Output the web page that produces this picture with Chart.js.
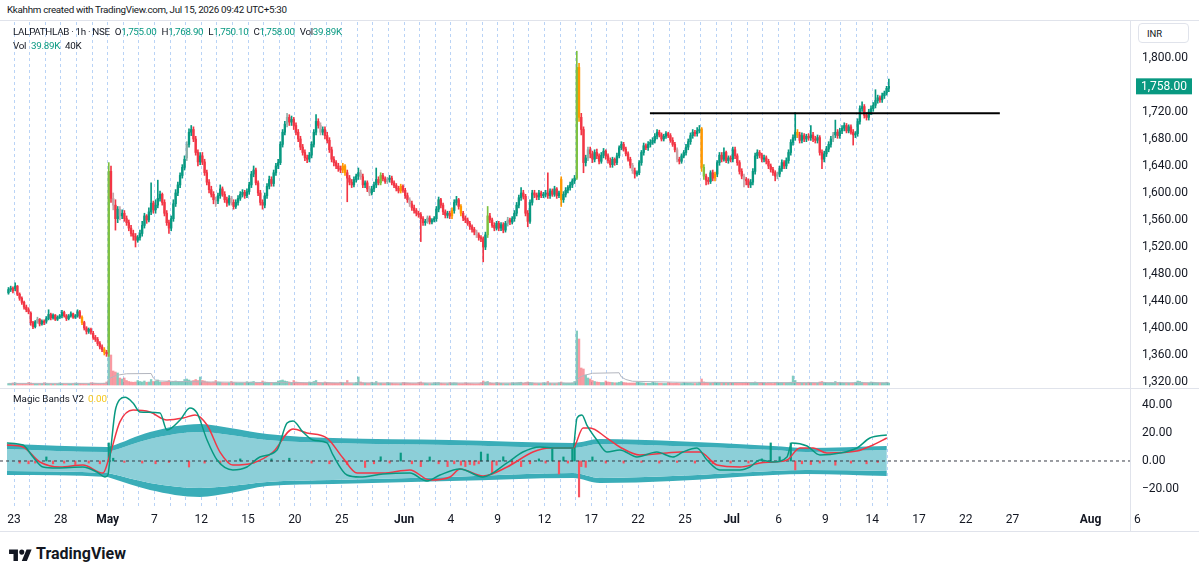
<!DOCTYPE html>
<html>
<head>
<meta charset="utf-8">
<title>LALPATHLAB 1h</title>
<script src="https://cdn.jsdelivr.net/npm/chart.js@4.4.1/dist/chart.umd.min.js"></script>
<style>
  html, body { margin: 0; padding: 0; background: #fff; }
  body { position: relative; width: 1199px; height: 576px; overflow: hidden;
         font-family: Roboto, "Liberation Sans", sans-serif; color: #131722; }
  canvas { position: absolute; left: 0; }
  .abs { position: absolute; white-space: nowrap; z-index: 2; }
  .sep { position: absolute; background: #e0e3eb; z-index: 1; }
  .g { color: #089981; }
  #hdr { left: 7px; top: 4px; font-size: 9.8px; letter-spacing: -0.3px; }
  #lg1, #lg2 { left: 13px; font-size: 9.8px; letter-spacing: -0.3px; }
  #lg1 { top: 26px; }
  #lg2 { top: 40px; }
  #lg1 .k { margin-left: 5px; }
  #lg2 .k { margin-left: 5px; }
  #inr { left: 1138px; top: 23px; width: 51px; height: 20px; border: 1px solid #e0e3eb; border-radius: 4px;
         font-size: 9.5px; line-height: 19px; padding-left: 8px; box-sizing: border-box; background: #fff; }
  #mb { left: 13px; top: 393px; font-size: 9.8px; }
  #mb span { color: #f5c71a; margin-left: 4px; }
  #logo { left: 9px; top: 544px; font-size: 16px; font-weight: 700; display: flex; align-items: center; gap: 4px; }
</style>
</head>
<body>
<div id="hdr" class="abs">Kkahhm created with TradingView.com, Jul 15, 2026 09:42 UTC+5:30</div>
<div class="sep" style="left:0;top:20px;width:1199px;height:1px"></div>
<canvas id="main" width="1199" height="366" style="top:22px"></canvas>
<div class="sep" style="left:0;top:388px;width:1199px;height:1px"></div>
<canvas id="osc" width="1199" height="142" style="top:389px"></canvas>
<div class="sep" style="left:0;top:531px;width:1199px;height:1px"></div>
<div class="sep" style="left:1130px;top:21px;width:1px;height:510px"></div>
<div id="lg1" class="abs">LALPATHLAB · 1h · NSE<span class="k">O</span><span class="g">1,755.00</span><span class="k">H</span><span class="g">1,768.90</span><span class="k">L</span><span class="g">1,750.10</span><span class="k">C</span><span class="g">1,758.00</span><span class="k">Vol</span><span class="g">39.89K</span></div>
<div id="lg2" class="abs">Vol<span class="k g">39.89K</span><span class="k">40K</span></div>
<div id="inr" class="abs">INR</div>
<div id="mb" class="abs">Magic Bands V2<span>0.00</span></div>
<div id="logo" class="abs"><svg width="23" height="14" viewBox="0 0 36 22"><path d="M14 22H7V11H0V4h14v18zM28 22h-8l7.5-18h8L28 22zM20 4a4 4 0 1 0 0 8 4 4 0 0 0 0-8z" fill="#131722"/></svg>TradingView</div>

<script>
// hourly bars, 7 per NSE session; the first 3 bars are the tail of 22 Apr
const opens = [
  1452,1457,1459,
  1458,1462,1450,1444,1438,1431,1427, // 23 Apr
  1422,1408,1402,1409,1413,1406,1410,
  1410,1414,1420,1415,1419,1413,1416,
  1418,1423,1418,1414,1418,1421,1416, // 28 Apr
  1418,1424,1416,1408,1400,1395,1398,
  1392,1386,1383,1377,1372,1368,1364,
  1364,1632,1592,1582,1562,1576,1566, // 4 May
  1570,1562,1556,1548,1540,1536,1530,
  1534,1540,1552,1566,1560,1572,1585,
  1575,1582,1592,1598,1586,1570,1556, // 7 May
  1548,1562,1584,1600,1612,1626,1638,
  1652,1672,1690,1694,1680,1660,1646,
  1655,1646,1630,1616,1605,1598,1590, // 12 May
  1588,1596,1606,1598,1590,1585,1592,
  1586,1580,1586,1592,1598,1601,1596,
  1602,1612,1628,1634,1615,1600,1586, // 15 May
  1582,1596,1610,1620,1614,1630,1640,
  1645,1672,1690,1702,1712,1705,1709,
  1700,1690,1680,1668,1660,1652,1650, // 20 May
  1656,1672,1690,1706,1700,1690,1694,
  1685,1678,1664,1650,1645,1640,1636,
  1634,1640,1630,1622,1616,1612,1620, // 25 May
  1625,1630,1624,1612,1615,1606,1600,
  1606,1612,1620,1615,1626,1621,1617,
  1620,1622,1615,1611,1607,1603,1610,
  1604,1596,1590,1584,1578,1574,1570, // 1 Jun
  1568,1562,1556,1558,1563,1557,1560,
  1562,1576,1590,1582,1572,1567,1570,
  1566,1574,1586,1590,1580,1570,1563, // 4 Jun
  1560,1555,1550,1546,1542,1538,1534,
  1532,1520,1538,1566,1560,1552,1548,
  1555,1548,1553,1545,1555,1560,1557, // 9 Jun
  1562,1570,1582,1593,1600,1595,1570,
  1558,1586,1600,1597,1594,1600,1596,
  1598,1600,1596,1603,1598,1606,1596, // 12 Jun
  1620,1590,1598,1604,1608,1612,1618,
  1622,1786,1712,1694,1645,1652,1664,
  1658,1650,1660,1655,1647,1656,1662, // 17 Jun
  1655,1648,1642,1650,1645,1655,1667,
  1672,1665,1658,1650,1641,1633,1628,
  1630,1645,1660,1670,1667,1672,1675, // 22 Jun
  1678,1684,1690,1686,1680,1684,1688,
  1685,1678,1672,1664,1650,1647,1655,
  1660,1668,1676,1685,1690,1688,1692, // 25 Jun
  1695,1638,1625,1619,1617,1630,1622,
  1628,1645,1656,1650,1660,1648,1652,
  1650,1664,1655,1645,1632,1625,1620, // 1 Jul
  1618,1612,1616,1632,1655,1660,1656,
  1650,1652,1647,1640,1635,1630,1625,
  1628,1636,1645,1640,1648,1660,1675, // 6 Jul
  1682,1690,1686,1678,1685,1680,1684,
  1682,1686,1680,1678,1682,1660,1650,
  1658,1665,1672,1680,1686,1690,1685, // 9 Jul
  1692,1696,1700,1692,1698,1690,1686,
  1688,1706,1725,1728,1715,1712,1720,
  1725,1730,1737,1741,1738,1744,1748, // 14 Jul
  1755
];
const highs = [
  1460,1462,1461,
  1467,1463,1452,1446,1440,1434,1430,
  1424,1410,1411,1416,1414,1412,1412,
  1417,1427,1422,1421,1420,1418,1420,
  1426,1425,1420,1420,1424,1422,1420,
  1427,1426,1418,1410,1402,1400,1400,
  1395,1389,1386,1380,1375,1371,1367,
  1645,1640,1600,1590,1580,1580,1575,
  1574,1566,1560,1552,1545,1540,1537,
  1545,1558,1570,1568,1578,1615,1588,
  1590,1619,1603,1600,1590,1574,1560,
  1566,1590,1605,1616,1630,1642,1655,
  1676,1695,1700,1698,1684,1664,1660,
  1660,1650,1634,1620,1610,1602,1594,
  1600,1612,1609,1602,1594,1596,1595,
  1590,1590,1596,1602,1605,1604,1606,
  1616,1632,1640,1637,1618,1604,1590,
  1600,1614,1625,1624,1634,1644,1650,
  1676,1694,1706,1718,1716,1714,1712,
  1704,1694,1684,1672,1664,1656,1660,
  1676,1694,1716,1710,1704,1698,1698,
  1690,1682,1668,1654,1648,1644,1640,
  1644,1642,1634,1626,1620,1624,1628,
  1637,1634,1628,1618,1618,1610,1610,
  1616,1637,1624,1630,1629,1624,1623,
  1626,1625,1618,1614,1610,1613,1612,
  1607,1600,1593,1588,1582,1577,1573,
  1571,1565,1561,1566,1566,1562,1565,
  1580,1594,1592,1585,1575,1573,1573,
  1578,1590,1595,1592,1583,1573,1566,
  1563,1558,1553,1549,1545,1541,1537,
  1535,1542,1580,1570,1563,1556,1558,
  1558,1556,1556,1558,1564,1563,1565,
  1574,1586,1597,1608,1604,1598,1574,
  1590,1604,1604,1600,1604,1603,1601,
  1604,1630,1606,1606,1610,1608,1603,
  1624,1602,1608,1611,1616,1621,1626,
  1810,1792,1718,1698,1656,1668,1668,
  1662,1664,1665,1658,1660,1666,1664,
  1658,1652,1653,1652,1659,1670,1676,
  1675,1668,1661,1653,1644,1637,1633,
  1648,1663,1674,1673,1676,1679,1682,
  1688,1694,1693,1689,1687,1691,1690,
  1688,1682,1675,1667,1653,1658,1663,
  1672,1680,1689,1694,1693,1697,1700,
  1697,1642,1628,1623,1633,1634,1631,
  1648,1660,1660,1667,1662,1655,1655,
  1668,1668,1658,1648,1636,1628,1623,
  1621,1620,1636,1659,1664,1663,1659,
  1656,1655,1650,1643,1638,1633,1631,
  1640,1649,1648,1652,1664,1679,1686,
  1719,1694,1690,1689,1688,1687,1688,
  1700,1690,1684,1686,1685,1664,1662,
  1669,1676,1684,1690,1708,1694,1696,
  1700,1704,1703,1701,1701,1694,1691,
  1710,1729,1735,1731,1719,1724,1729,
  1734,1753,1745,1744,1748,1751,1758,
  1768.9
];
const lows = [
  1450,1454,1452,
  1455,1448,1441,1435,1428,1424,1421,
  1404,1399,1400,1407,1403,1404,1405,
  1407,1412,1412,1413,1411,1411,1414,
  1415,1416,1411,1412,1416,1414,1414,
  1416,1414,1405,1397,1391,1392,1391,
  1383,1380,1374,1369,1365,1360,1358,
  1358,1586,1575,1545,1556,1560,1562,
  1558,1552,1544,1536,1530,1520,1527,
  1530,1536,1548,1555,1557,1568,1570,
  1570,1578,1588,1582,1566,1552,1540,
  1544,1558,1580,1596,1608,1622,1634,
  1648,1668,1685,1676,1656,1640,1642,
  1642,1626,1612,1600,1594,1584,1580,
  1584,1592,1595,1586,1580,1582,1582,
  1576,1577,1582,1589,1594,1592,1593,
  1598,1608,1624,1612,1596,1582,1576,
  1578,1592,1606,1610,1610,1626,1636,
  1642,1668,1686,1698,1700,1700,1694,
  1686,1676,1664,1656,1648,1645,1646,
  1652,1668,1686,1696,1686,1686,1680,
  1674,1660,1646,1640,1636,1632,1630,
  1630,1626,1587,1612,1608,1609,1616,
  1620,1620,1608,1608,1602,1596,1597,
  1602,1608,1612,1612,1618,1614,1614,
  1616,1612,1608,1603,1600,1600,1601,
  1592,1586,1580,1574,1570,1566,1564,
  1528,1552,1552,1555,1554,1554,1557,
  1558,1572,1578,1568,1563,1563,1562,
  1562,1570,1582,1576,1566,1559,1556,
  1552,1546,1542,1538,1534,1530,1528,
  1498,1516,1534,1556,1549,1544,1545,
  1544,1544,1541,1542,1551,1553,1554,
  1558,1566,1578,1589,1591,1566,1550,
  1555,1582,1593,1590,1590,1593,1593,
  1594,1592,1592,1595,1595,1592,1593,
  1580,1586,1594,1600,1604,1608,1614,
  1620,1706,1686,1630,1640,1648,1652,
  1645,1646,1651,1643,1644,1652,1650,
  1644,1638,1638,1641,1642,1652,1664,
  1662,1655,1647,1637,1629,1622,1625,
  1627,1641,1656,1664,1663,1668,1672,
  1674,1680,1683,1677,1677,1681,1682,
  1675,1669,1661,1646,1643,1644,1652,
  1656,1664,1672,1681,1684,1684,1689,
  1632,1620,1612,1613,1614,1618,1618,
  1624,1641,1646,1647,1645,1644,1646,
  1646,1651,1641,1628,1621,1609,1612,
  1608,1608,1612,1628,1651,1652,1646,
  1646,1643,1636,1631,1626,1618,1621,
  1624,1632,1636,1636,1644,1656,1671,
  1678,1682,1674,1674,1676,1676,1678,
  1678,1676,1674,1674,1656,1636,1646,
  1654,1661,1668,1676,1682,1681,1681,
  1688,1692,1689,1689,1687,1671,1682,
  1684,1702,1721,1711,1708,1708,1716,
  1721,1726,1733,1734,1734,1740,1745,
  1750.1
];
const closes = [
  1457,1459,1455,
  1462,1450,1444,1438,1431,1427,1424,
  1408,1402,1409,1413,1406,1410,1408,
  1414,1420,1415,1419,1413,1416,1418,
  1423,1418,1414,1418,1421,1416,1418,
  1424,1416,1408,1400,1395,1398,1394,
  1386,1383,1377,1372,1368,1364,1362,
  1632,1592,1582,1562,1576,1566,1570,
  1562,1556,1548,1540,1536,1530,1534,
  1540,1552,1566,1560,1572,1585,1575,
  1582,1592,1598,1586,1570,1556,1548,
  1562,1584,1600,1612,1626,1638,1650,
  1672,1690,1694,1680,1660,1646,1655,
  1646,1630,1616,1605,1598,1590,1588,
  1596,1606,1598,1590,1585,1592,1586,
  1580,1586,1592,1598,1601,1596,1602,
  1612,1628,1634,1615,1600,1586,1582,
  1596,1610,1620,1614,1630,1640,1645,
  1672,1690,1702,1712,1705,1709,1700,
  1690,1680,1668,1660,1652,1650,1656,
  1672,1690,1706,1700,1690,1694,1685,
  1678,1664,1650,1645,1640,1636,1634,
  1640,1630,1622,1616,1612,1620,1625,
  1630,1624,1612,1615,1606,1600,1606,
  1612,1620,1615,1626,1621,1617,1620,
  1622,1615,1611,1607,1603,1610,1604,
  1596,1590,1584,1578,1574,1570,1568,
  1562,1556,1558,1563,1557,1560,1562,
  1576,1590,1582,1572,1567,1570,1566,
  1574,1586,1590,1580,1570,1563,1560,
  1555,1550,1546,1542,1538,1534,1532,
  1520,1538,1566,1560,1552,1548,1555,
  1548,1553,1545,1555,1560,1557,1562,
  1570,1582,1593,1600,1595,1570,1558,
  1586,1600,1597,1594,1600,1596,1598,
  1600,1596,1603,1598,1606,1596,1600,
  1590,1598,1604,1608,1612,1618,1622,
  1786,1712,1694,1645,1652,1664,1658,
  1650,1660,1655,1647,1656,1662,1655,
  1648,1642,1650,1645,1655,1667,1672,
  1665,1658,1650,1641,1633,1628,1630,
  1645,1660,1670,1667,1672,1675,1678,
  1684,1690,1686,1680,1684,1688,1685,
  1678,1672,1664,1650,1647,1655,1660,
  1668,1676,1685,1690,1688,1692,1694,
  1638,1625,1619,1617,1630,1622,1628,
  1645,1656,1650,1660,1648,1652,1650,
  1664,1655,1645,1632,1625,1620,1618,
  1612,1616,1632,1655,1660,1656,1650,
  1652,1647,1640,1635,1630,1625,1628,
  1636,1645,1640,1648,1660,1675,1682,
  1690,1686,1678,1685,1680,1684,1682,
  1686,1680,1678,1682,1660,1650,1658,
  1665,1672,1680,1686,1690,1685,1692,
  1696,1700,1692,1698,1690,1686,1688,
  1706,1725,1728,1715,1712,1720,1725,
  1730,1737,1741,1738,1744,1748,1755,
  1758
];
// volume in thousands of shares
const volumes = [
  30,25,40,
  45,30,25,20,22,25,50,
  40,25,20,18,20,22,45,
  35,22,20,18,18,20,40,
  30,20,18,20,18,22,38,
  35,30,25,22,20,20,45,
  40,35,30,25,28,35,60,
  1650,600,280,260,240,140,120,
  140,90,70,60,55,60,90,
  70,60,80,55,60,110,70,
  80,100,60,55,60,70,90,
  60,70,80,60,65,70,110,
  120,100,80,90,110,90,160,
  90,80,60,55,50,60,90,
  60,55,45,40,40,45,70,
  50,45,40,40,38,40,65,
  55,60,70,50,45,50,80,
  60,55,50,45,45,55,80,
  90,100,80,70,60,50,90,
  60,55,50,45,40,40,60,
  55,70,90,50,45,40,60,
  50,45,40,38,35,35,55,
  45,40,90,35,30,30,50,
  160,60,45,40,35,35,55,
  40,70,35,35,30,30,50,
  40,35,30,30,28,28,50,
  45,40,35,30,30,30,50,
  60,40,35,30,28,28,45,
  45,50,35,30,28,28,45,
  40,45,40,30,28,28,45,
  35,30,28,25,25,28,45,
  80,60,70,45,35,30,50,
  40,35,30,28,28,28,45,
  40,45,50,55,35,50,60,
  50,45,35,30,30,30,45,
  40,70,35,30,30,30,45,
  60,40,35,35,35,40,70,
  1080,920,340,320,200,140,120,
  90,70,60,55,50,50,80,
  60,55,50,45,45,55,70,
  50,45,40,40,40,40,60,
  50,45,40,35,35,35,55,
  45,40,35,35,30,30,50,
  40,35,35,40,30,30,50,
  40,35,35,30,30,30,55,
  120,60,50,40,35,35,55,
  50,45,40,40,35,35,50,
  45,40,40,45,35,40,55,
  40,35,45,60,40,35,50,
  40,35,35,35,30,45,55,
  40,45,40,40,45,55,180,
  90,50,45,40,40,35,55,
  45,40,35,35,60,70,55,
  45,40,45,40,70,45,55,
  40,35,35,35,35,40,55,
  80,70,55,45,40,40,60,
  55,50,45,40,40,40,55,
  40
];
// 20-bar volume average, read at a few bar positions
const volMaX = [0, 44, 45, 46, 47, 48, 50, 53, 64, 65, 66, 68, 75, 90, 120, 160, 200, 254, 255, 256, 257, 259, 262, 274, 275, 277, 280, 300, 340, 395];
const volMaV = [32, 33, 115, 145, 165, 185, 205, 225, 230, 140, 100, 80, 70, 60, 48, 42, 40, 40, 95, 140, 170, 200, 235, 245, 160, 110, 75, 55, 48, 45];

// candles painted by the volume colouring of the script
const orangeBars = [33, 43, 150, 151, 176, 199, 203, 248, 256, 311, 317, 354];
const limeBars = [45, 167, 215, 255, 312];
const fadedBars = [13, 47, 50, 80, 93, 100, 125, 140, 158, 162, 170, 180, 188, 210, 224, 260, 280, 300, 330, 345, 370];

// drawn horizontal level
const levelPrice = 1718;
const levelFrom = 287.8, levelTo = 444.8;

// Magic Bands V2 pane
const oscX = [-0.7, 6.5, 11, 15.5, 21.8, 33.4, 39.7, 43.3, 44.6, 46, 47.8, 50, 52.3, 55.9, 59, 68, 71.1, 77, 81.4, 84.6, 89.1, 93.6, 100.7, 107, 112.8, 120.5, 125, 127.7, 132.1, 136.6, 142.9, 145.6, 151.9, 157.7, 168, 180.1, 187.8, 193.6, 202.6, 212.9, 223.7, 230.8, 238.5, 244.3, 253.3, 255.1, 257.3, 259.5, 264, 268.5, 274.3, 282, 290.9, 298.1, 302.6, 308.9, 313.4, 319.2, 328.2, 332.7, 337.2, 343, 349.3, 351.5, 358.3, 364.1, 373.1, 380.7, 386.5, 394.1];
const oscV = [12.9, 11.4, 2.9, -4.3, -5, -4.3, -7.9, -11.4, -10, 10, 35, 44, 45.5, 41.4, 35, 34.3, 22.1, 29.3, 37.9, 34.3, 15, 0.7, -6.4, -4.3, 2.9, 7.9, 27.1, 28.6, 20.7, 15, 12.9, 4.3, -10, -11.4, -9.3, -8.6, -14.3, -10, -5.7, -11.4, -1.4, 6.4, 10, 9.3, 9.3, 30.7, 32.9, 25.7, 15, 6.4, 7.9, 2.9, 6.4, 2.9, 6.4, 9.3, 0.7, -6.4, -6.4, -4.3, 0.7, -0.7, 2.9, 12.9, 10.7, 4.3, 5.7, 9.3, 16.4, 18.6];
const sigX = [-0.7, 6.5, 14.1, 23.1, 33.4, 42.4, 45.5, 50, 55.9, 63.5, 71.1, 78.3, 83.7, 89.1, 94.9, 100.7, 109.7, 118.7, 127.7, 133.9, 142.9, 150.1, 156.4, 168, 180.1, 189.1, 198.1, 202.6, 212.9, 223.7, 235.3, 243, 253.3, 257.8, 260.9, 268.5, 274.3, 283.3, 295.4, 301.3, 310.2, 317.9, 328.2, 337.2, 343, 349.3, 355.1, 361, 367.2, 380.7, 387.9, 394.1];
const sigV = [11.4, 10, -0.7, -4.3, -2.9, -8.6, 4.3, 27.9, 36.4, 35, 29.3, 30.7, 32.9, 25.7, 6.4, -2.9, -1.4, 6.4, 22.9, 20, 16.4, 2.1, -8.6, -8.6, -6.4, -13.6, -11.4, -5.7, -10.7, -4.3, 6.4, 9.3, 9.3, 23.6, 23.6, 16.4, 10, 4.3, 5.7, 6.4, 6.4, -2.9, -4.3, -1.4, -0.7, 0.7, 9.3, 9.3, 5.7, 7.1, 11.4, 16.4];
const bandX = [-0.7, 44.2, 45.5, 63.5, 85.9, 99.4, 116, 145.6, 198.1, 253.3, 265.4, 298, 343, 358, 394.1];
const upperOuter = [12.1, 10, 10.4, 20.7, 26.4, 23.6, 19.3, 16.4, 15, 12.9, 15.7, 14.3, 10.7, 9.3, 10.7];
const upperInner = [8.6, 6.4, 6.8, 15.7, 20.7, 18.6, 15, 12.9, 11.4, 9.3, 12.1, 10.7, 7.9, 6.4, 7.9];
const lowerInner = [-7.1, -8.6, -9, -15.7, -19.3, -17.9, -15, -13.6, -11.4, -8.6, -12.1, -10.7, -7.1, -6.4, -7.1];
const lowerOuter = [-10, -11.4, -12, -20.7, -25.7, -22.9, -17.9, -16.4, -14.3, -12.1, -15.7, -14.3, -10, -9.3, -10.7];
const histX = [5, 9, 12, 17, 20, 25, 30, 36, 41, 45, 47, 52, 60, 66, 72, 81, 88, 95, 104, 110, 118, 126, 136, 144, 152, 160, 164, 167, 171, 176, 181, 185, 189, 193, 197, 200, 203, 205, 207, 209, 211, 212, 215, 217, 219, 222, 226, 230, 234, 238, 241, 244, 247, 249, 251, 253, 254, 256, 257, 259, 262, 268, 276, 284, 292, 300, 308, 316, 324, 332, 338, 342, 346, 351, 353, 356, 360, 364, 371, 378, 385, 390];
const histV = [-1.5, -2, -1.5, 2.9, -2, -1.5, -2.5, -1.5, -2, 12.9, 2, -1, -1.5, -2, -1, -4.3, -1.5, -2, 1.5, -1.5, 1.5, 2, -1.5, -2, -2.5, -4.6, -2, 3, -1.5, 5.7, -2, -4, 2.9, -2, -4, -2, -3, -4, -2.5, -3, -2, 6.4, 5, -8.6, -3, 3, -2, -4, -2, 1.5, -1.5, 9.3, -9.3, 2.9, -1.5, 9.3, 12.9, -25.7, -4, -4.5, 2.9, -1.5, -1.5, -1, -1.5, -1, -1.5, -2, -1.5, -1.5, 1.5, 12.9, 3, 12.9, -6.4, -2, -2.5, -1.5, -3, -1.5, -2, -1];

// axis texts
const priceTicks = [1320, 1360, 1400, 1440, 1480, 1520, 1560, 1600, 1640, 1680, 1720, 1800];
const oscTicks = [-20, 0, 20, 40];
const axisLabels = ['23', '28', 'May', '7', '12', '15', '20', '25', 'Jun', '4', '9', '12', '17', '22', '25', 'Jul', '6', '9', '14', '17', '22', '27', 'Aug', '6'];
const axisLabelDays = [1, 4, 7, 10, 13, 16, 19, 22, 26, 29, 32, 35, 38, 41, 44, 47, 50, 53, 56, 59, 62, 65, 70, 73];

const SESSIONS = 57;          // 23 Apr .. 15 Jul
const X_MIN = -3.8, X_MAX = 503.2;
const UP = '#089981', DN = '#f23645', ORANGE = '#ff9800', LIME = '#7cc142';
const FADED_UP = '#8fb1aa', FADED_DN = '#c4a4a8';
const GRID_BLUE = '#b9d3f6';
const GRID_BORDER = { display: true, width: 0, color: 'rgba(0,0,0,0)', dash: [3, 3] };

Chart.defaults.font.family = 'Roboto, "Liberation Sans", sans-serif';
Chart.defaults.font.size = 12;
Chart.defaults.color = '#131722';

const firstBar = d => 3 + 7 * (d - 1);
const idx = opens.map((_, i) => i);
const isUp = i => closes[i] >= opens[i];
const barColor = i => {
  if (orangeBars.includes(i)) return ORANGE;
  if (limeBars.includes(i)) return LIME;
  if (fadedBars.includes(i)) return isUp(i) ? FADED_UP : FADED_DN;
  return isUp(i) ? UP : DN;
};
const colors = idx.map(barColor);
const volColors = idx.map(i => isUp(i) ? 'rgba(8,153,129,0.5)' : 'rgba(242,54,69,0.5)');

const sessionTicks = [];
for (let d = 1; d <= SESSIONS; d++) sessionTicks.push(firstBar(d) - 0.5);
const allTicks = [];
for (let d = 1; d <= 73; d++) allTicks.push(firstBar(d) - 0.5);
const labelAt = new Map();
axisLabelDays.forEach((d, k) => labelAt.set(firstBar(d) - 0.5, axisLabels[k]));
const lastSession = sessionTicks[sessionTicks.length - 1];

const fmtPrice = v => v.toLocaleString('en-US', { minimumFractionDigits: 2, maximumFractionDigits: 2 });
const fmtOsc = v => (v < 0 ? '\u2212' : '') + Math.abs(v).toFixed(2);
const noPad = s => { s.paddingTop = 0; s.paddingBottom = 0; s.paddingLeft = 0; s.paddingRight = 0; };
const pts = (xs, ys) => xs.map((x, k) => ({ x, y: ys[k] }));

const lastTag = {
  id: 'lastTag',
  afterDraw(chart) {
    const { ctx, chartArea, scales } = chart;
    const v = closes[closes.length - 1];
    const y = scales.y.getPixelForValue(v);
    ctx.save();
    ctx.fillStyle = UP;
    ctx.fillRect(chartArea.right + 6, y - 8, 56, 16);
    ctx.fillStyle = '#fff';
    ctx.font = '12px Roboto, "Liberation Sans", sans-serif';
    ctx.textBaseline = 'middle';
    ctx.fillText(fmtPrice(v), chartArea.right + 11, y + 0.5);
    ctx.restore();
  }
};

new Chart(document.getElementById('main'), {
  type: 'bar',
  data: {
    datasets: [
      { type: 'line', data: [{ x: levelFrom, y: levelPrice }, { x: levelTo, y: levelPrice }],
        borderColor: '#000', borderWidth: 2, pointRadius: 0, order: 0, yAxisID: 'y' },
      { data: idx.map(i => ({ x: i, y: [opens[i], closes[i]] })), backgroundColor: colors,
        barThickness: 1.7, minBarLength: 1, grouped: false, order: 1, yAxisID: 'y' },
      { data: idx.map(i => ({ x: i, y: [lows[i], highs[i]] })), backgroundColor: colors,
        barThickness: 1, grouped: false, order: 2, yAxisID: 'y' },
      { type: 'line', data: pts(volMaX, volMaV), borderColor: '#b2b5be', borderWidth: 1,
        pointRadius: 0, order: 3, yAxisID: 'yv' },
      { data: idx.map(i => ({ x: i, y: volumes[i] })), backgroundColor: volColors,
        barThickness: 1.7, grouped: false, order: 4, yAxisID: 'yv' }
    ]
  },
  options: {
    responsive: false, animation: false, events: [], devicePixelRatio: 1,
    layout: { padding: 0 },
    plugins: { legend: { display: false }, tooltip: { enabled: false } },
    scales: {
      x: {
        type: 'linear', min: X_MIN, max: X_MAX, offset: false,
        afterBuildTicks: s => { s.ticks = sessionTicks.map(v => ({ value: v })); },
        ticks: { display: false },
        grid: { offset: false, color: GRID_BLUE, lineWidth: 1, drawTicks: false },
        border: GRID_BORDER,
        afterFit: s => { s.height = 0; noPad(s); }
      },
      y: {
        position: 'right', min: 1311.1, max: 1853.3,
        afterBuildTicks: s => { s.ticks = priceTicks.map(v => ({ value: v })); },
        ticks: { padding: 12, color: '#131722', callback: v => fmtPrice(v) },
        grid: { display: false, drawTicks: false },
        border: { display: false },
        afterFit: s => { s.width = 69; noPad(s); }
      },
      yv: { axis: 'y', position: 'left', display: false, min: -60, max: 7260 }
    }
  },
  plugins: [lastTag]
});

new Chart(document.getElementById('osc'), {
  type: 'bar',
  data: {
    datasets: [
      { type: 'line', data: pts(oscX, oscV), borderColor: UP, borderWidth: 1.5, pointRadius: 0,
        cubicInterpolationMode: 'monotone', order: 0 },
      { type: 'line', data: pts(sigX, sigV), borderColor: DN, borderWidth: 1.5, pointRadius: 0,
        cubicInterpolationMode: 'monotone', order: 1 },
      { type: 'line', data: [{ x: X_MIN, y: 0 }, { x: X_MAX, y: 0 }], borderColor: '#363a45',
        borderWidth: 1, borderDash: [3, 3], pointRadius: 0, order: 2 },
      { data: pts(histX, histV), backgroundColor: histV.map(v => v >= 0 ? UP : '#f7525f'),
        barThickness: 1.5, grouped: false, order: 3 },
      { type: 'line', data: pts(bandX, upperOuter), borderWidth: 0, pointRadius: 0,
        cubicInterpolationMode: 'monotone', fill: '+1', backgroundColor: '#3aadb8', order: 4 },
      { type: 'line', data: pts(bandX, upperInner), borderWidth: 0, pointRadius: 0,
        cubicInterpolationMode: 'monotone', fill: '+1', backgroundColor: '#8ccfd8', order: 5 },
      { type: 'line', data: pts(bandX, lowerInner), borderWidth: 0, pointRadius: 0,
        cubicInterpolationMode: 'monotone', fill: '+1', backgroundColor: '#3aadb8', order: 6 },
      { type: 'line', data: pts(bandX, lowerOuter), borderWidth: 0, pointRadius: 0,
        cubicInterpolationMode: 'monotone', fill: false, order: 7 }
    ]
  },
  options: {
    responsive: false, animation: false, events: [], devicePixelRatio: 1,
    layout: { padding: 0 },
    plugins: { legend: { display: false }, tooltip: { enabled: false } },
    scales: {
      x: {
        type: 'linear', min: X_MIN, max: X_MAX, offset: false,
        afterBuildTicks: s => { s.ticks = allTicks.map(v => ({ value: v })); },
        ticks: {
          autoSkip: false, maxRotation: 0, minRotation: 0, padding: 6, color: '#131722',
          font: c => ({ size: 12, weight: /^[A-Z]/.test((c.tick && c.tick.label) || '') ? 'bold' : 'normal' }),
          callback: v => labelAt.get(v) || ''
        },
        grid: { offset: false, drawTicks: false, lineWidth: 1,
          color: c => (c.tick && c.tick.value <= lastSession) ? GRID_BLUE : 'rgba(0,0,0,0)' },
        border: GRID_BORDER,
        afterFit: s => { s.height = 24; noPad(s); }
      },
      y: {
        position: 'right', min: -32.86, max: 51.43,
        afterBuildTicks: s => { s.ticks = oscTicks.map(v => ({ value: v })); },
        ticks: { padding: 12, color: '#131722', callback: v => fmtOsc(v) },
        grid: { display: false, drawTicks: false },
        border: { display: false },
        afterFit: s => { s.width = 69; noPad(s); }
      }
    }
  }
});
</script>
</body>
</html>
